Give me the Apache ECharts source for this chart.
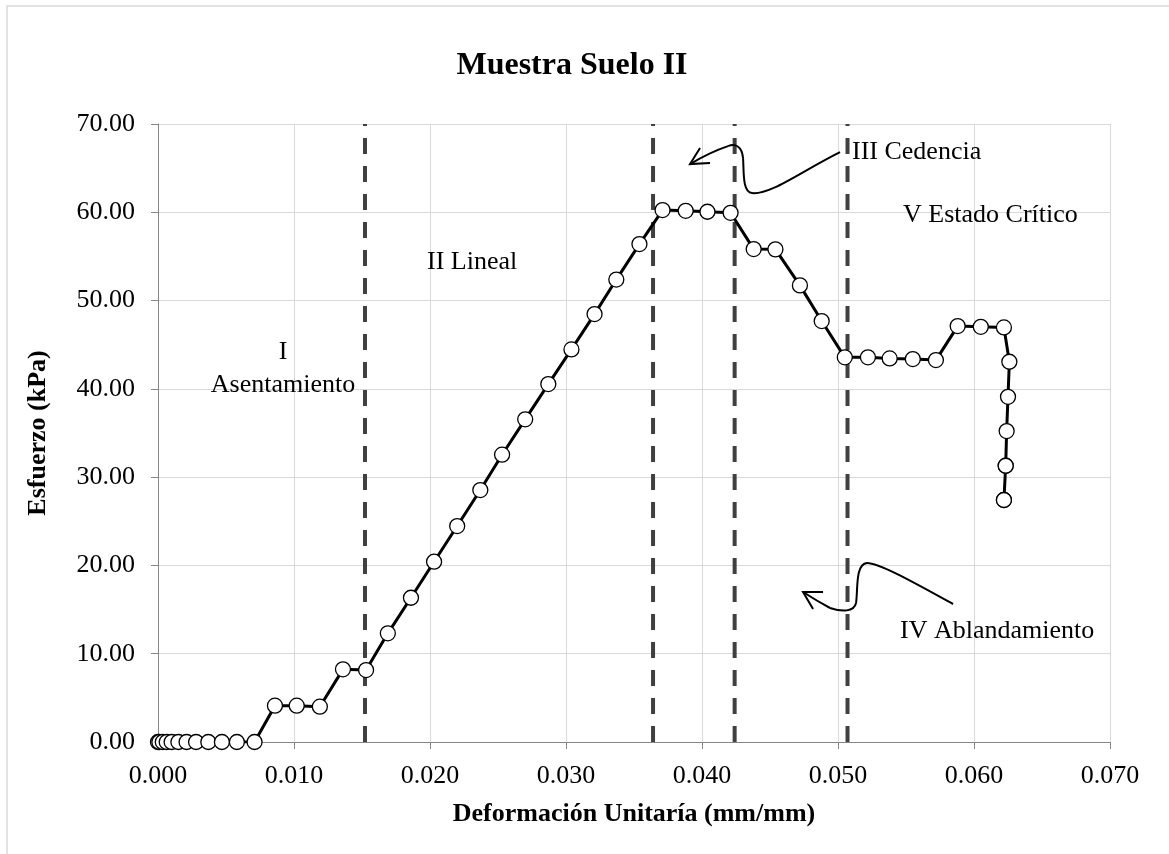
<!DOCTYPE html>
<html>
<head>
<meta charset="utf-8">
<script src="https://cdn.jsdelivr.net/npm/echarts@6/dist/echarts.min.js"></script>
<style>
  html, body { margin: 0; padding: 0; background: #fff; }
  #chart { width: 1169px; height: 854px; }
</style>
</head>
<body>
<div id="chart"></div>
<script>
// Ensayo de compresión: deformación unitaria (mm/mm) vs esfuerzo (kPa)
const deformacion = [
  0, 0.0001, 0.00035, 0.00064, 0.0010, 0.0015, 0.0021, 0.0028, 0.0037, 0.0047, 0.0058, 0.0071,
  0.0086, 0.0102, 0.0119, 0.0136, 0.0153,
  0.0169, 0.0186, 0.0203, 0.0220, 0.0237, 0.0253, 0.0270, 0.0287, 0.0304, 0.0321, 0.0337, 0.0354,
  0.0371, 0.0388, 0.0404, 0.0421, 0.0438, 0.0454, 0.0472, 0.0488,
  0.0505, 0.0522, 0.0538, 0.0555, 0.0572, 0.0588, 0.0605, 0.0622,
  0.0626, 0.0625, 0.0624, 0.06233, 0.06233, 0.0622, 0.0622
];
const esfuerzo = [
  0, 0, 0, 0, 0, 0, 0, 0, 0, 0, 0, 0,
  4.11, 4.11, 4.00, 8.23, 8.15,
  12.31, 16.34, 20.42, 24.46, 28.54, 32.54, 36.55, 40.54, 44.47, 48.47, 52.38, 56.40,
  60.25, 60.17, 60.06, 59.94, 55.83, 55.80, 51.72, 47.68,
  43.57, 43.57, 43.45, 43.37, 43.26, 47.11, 47.03, 46.96,
  43.07, 39.10, 35.22, 31.29, 31.29, 27.41, 27.41
];

// Límites entre zonas de comportamiento
const limitesZonas = [0.01522, 0.0364, 0.0424, 0.0507];

// Rótulos de las zonas [texto, deformación, esfuerzo, alineación]
const rotulos = [
  ['III Cedencia', 0.05103, 66.8, 'left'],
  ['V Estado Crítico', 0.05478, 59.7, 'left'],
  ['II Lineal', 0.01978, 54.4, 'left'],
  ['I', 0.00919, 44.2, 'center'],
  ['Asentamiento', 0.00919, 40.4, 'center'],
  ['IV Ablandamiento', 0.05456, 12.5, 'left']
];

// Flechas curvas: punta en coordenadas de datos; tramos bezier relativos en píxeles
// cada tramo: [x1, y1, cpx1, cpy1, cpx2, cpy2, x2, y2] (cpx2/cpy2 null => cuadrática)
const flechas = [
  { punta: [0.03912, 65.46],
    tramos: [
      [150, -12, 110, 8, 80, 31, 62, 29],
      [62, 29, 52, 28, 54, 6, 53, -6],
      [53, -6, 52, -18, 45, -21, 38, -18],
      [38, -18, 20, -12, null, null, 0, 0]
    ],
    cabeza: [[10, -16], [0, 0], [20, -1]] },
  { punta: [0.04743, 16.99],
    tramos: [
      [150, 12, 117, -6, 77, -29, 64, -29],
      [64, -29, 52, -28, 55, -2, 53, 11],
      [53, 11, 51, 20, 39, 20, 27, 16],
      [27, 16, 14, 9, null, null, 0, 0]
    ],
    cabeza: [[20, 0], [0, 0], [10, 17]] }
];

const FONT = '"Liberation Serif", "Times New Roman", serif';
const puntos = deformacion.map((d, i) => [d, esfuerzo[i]]);
const ejeGris = '#868686';

const seriesLimites = limitesZonas.map(x => ({
  type: 'line',
  data: [[x, 0], [x, 70]],
  symbol: 'none',
  silent: true,
  lineStyle: { color: '#404040', width: 4, type: [16, 12] },
  z: 3
}));

const chart = echarts.init(document.getElementById('chart'), null, { renderer: 'canvas' });

chart.setOption({
  backgroundColor: '#fff',
  animation: false,
  title: {
    text: 'Muestra Suelo II',
    left: 567,
    top: 45,
    textAlign: 'center',
    textStyle: { fontFamily: FONT, fontSize: 32, fontWeight: 'bold', color: '#000' }
  },
  grid: { left: 158, right: 59, top: 124, bottom: 112, containLabel: false },
  xAxis: {
    type: 'value',
    min: 0, max: 0.07, interval: 0.01,
    name: 'Deformación Unitaría (mm/mm)',
    nameLocation: 'middle',
    nameGap: 59,
    nameTextStyle: { fontFamily: FONT, fontSize: 26, fontWeight: 'bold', color: '#000' },
    axisLine: { show: true, onZero: false, lineStyle: { color: ejeGris, width: 1 } },
    axisTick: { show: true, inside: false, length: 7, lineStyle: { color: ejeGris } },
    axisLabel: {
      fontFamily: FONT, fontSize: 26, color: '#000', margin: 21,
      formatter: v => v.toFixed(3)
    },
    splitLine: { show: true, lineStyle: { color: '#d9d9d9', width: 1 } }
  },
  yAxis: {
    type: 'value',
    min: 0, max: 70, interval: 10,
    name: 'Esfuerzo (kPa)',
    nameLocation: 'middle',
    nameGap: 107,
    nameTextStyle: { fontFamily: FONT, fontSize: 26, fontWeight: 'bold', color: '#000' },
    axisLine: { show: true, lineStyle: { color: ejeGris, width: 1 } },
    axisTick: { show: true, inside: false, length: 7, lineStyle: { color: ejeGris } },
    axisLabel: {
      fontFamily: FONT, fontSize: 26, color: '#000', margin: 23,
      formatter: v => v.toFixed(2)
    },
    splitLine: { show: true, lineStyle: { color: '#d9d9d9', width: 1 } }
  },
  series: seriesLimites.concat([
    {
      type: 'line',
      data: puntos,
      symbol: 'circle',
      symbolSize: 15,
      showAllSymbol: true,
      lineStyle: { color: '#000', width: 3 },
      itemStyle: { color: '#fff', borderColor: '#000', borderWidth: 1.3 },
      z: 5
    }
  ])
});

// Marco exterior, rótulos y flechas situados a partir de coordenadas de datos
const px = p => chart.convertToPixel({ gridIndex: 0 }, p);
const trazo = { fill: 'none', stroke: '#000', lineWidth: 2 };
const graficos = [
  {
    type: 'rect', silent: true, z: -1,
    shape: { x: 7, y: 6, width: 1400, height: 1000 },
    style: { fill: 'none', stroke: '#d9d9d9', lineWidth: 1.5 }
  }
];
rotulos.forEach(([texto, x, y, alin]) => {
  const p = px([x, y]);
  graficos.push({
    type: 'text', silent: true, z: 10,
    x: p[0], y: p[1],
    style: {
      text: texto, fill: '#000', font: '26px ' + FONT,
      textAlign: alin, textVerticalAlign: 'middle'
    }
  });
});
flechas.forEach(f => {
  const p = px(f.punta);
  f.tramos.forEach(t => {
    const shape = { x1: t[0], y1: t[1], cpx1: t[2], cpy1: t[3], x2: t[6], y2: t[7] };
    if (t[4] !== null) { shape.cpx2 = t[4]; shape.cpy2 = t[5]; }
    graficos.push({
      type: 'bezierCurve', silent: true, z: 10,
      x: p[0], y: p[1], shape: shape, style: trazo
    });
  });
  graficos.push({
    type: 'polyline', silent: true, z: 10,
    x: p[0], y: p[1], shape: { points: f.cabeza }, style: trazo
  });
});
chart.setOption({ graphic: graficos });
</script>
</body>
</html>
